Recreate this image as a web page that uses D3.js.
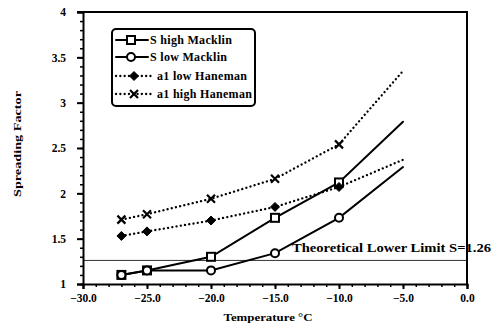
<!DOCTYPE html>
<html>
<head>
<meta charset="utf-8">
<script src="https://cdn.jsdelivr.net/npm/d3@7/dist/d3.min.js"></script>
<style>
  html, body { margin: 0; padding: 0; background: #fff; }
  svg { display: block; }
  text { font-family: "Liberation Serif", "Times New Roman", serif; font-weight: bold; fill: #000; }
</style>
</head>
<body>
<svg id="chart" width="494" height="331"></svg>
<script>
// Temperatures (°C) at which spreading factors were measured
const temps = [-27, -25, -20, -15, -10, -5];

// Spreading factor series
const sHighMacklin = [1.10, 1.15, 1.30, 1.73, 2.12, 2.79];
const sLowMacklin = [1.10, 1.15, 1.15, 1.34, 1.73, 2.29];
const a1LowHaneman = [1.53, 1.58, 1.70, 1.85, 2.07, 2.37];
const a1HighHaneman = [1.71, 1.77, 1.94, 2.16, 2.54, 3.35];

const seriesNames = ["S high Macklin", "S low Macklin", "a1 low Haneman", "a1 high Haneman"];

// Axis ticks
const xTicks = [-30, -25, -20, -15, -10, -5, 0];
const yTicks = [1, 1.5, 2, 2.5, 3, 3.5, 4];

const lowerLimit = 1.26;
const lowerLimitLabel = "Theoretical Lower Limit S=1.26";

const svg = d3.select("#chart");
const x = d3.scaleLinear().domain([-30, 0]).range([83, 467]);
const y = d3.scaleLinear().domain([1, 4]).range([284, 12]);

// series definitions: values, line style, marker type; the last point carries no marker
const series = [
  { name: seriesNames[0], values: sHighMacklin, dotted: false, marker: "square" },
  { name: seriesNames[1], values: sLowMacklin, dotted: false, marker: "circle" },
  { name: seriesNames[2], values: a1LowHaneman, dotted: true, marker: "diamond" },
  { name: seriesNames[3], values: a1HighHaneman, dotted: true, marker: "cross" }
];

function drawMarker(g, type, cx, cy) {
  if (type === "square") {
    g.append("rect").attr("x", cx - 4).attr("y", cy - 4).attr("width", 8).attr("height", 8)
      .attr("fill", "#fff").attr("stroke", "#000").attr("stroke-width", 2);
  } else if (type === "circle") {
    g.append("circle").attr("cx", cx).attr("cy", cy).attr("r", 4)
      .attr("fill", "#fff").attr("stroke", "#000").attr("stroke-width", 2);
  } else if (type === "diamond") {
    g.append("path").attr("d", `M${cx},${cy - 4.5}L${cx + 4.5},${cy}L${cx},${cy + 4.5}L${cx - 4.5},${cy}Z`)
      .attr("fill", "#000").attr("stroke", "#000").attr("stroke-width", 1);
  } else if (type === "cross") {
    g.append("path").attr("d", `M${cx - 4},${cy - 4}L${cx + 4},${cy + 4}M${cx - 4},${cy + 4}L${cx + 4},${cy - 4}`)
      .attr("stroke", "#000").attr("stroke-width", 2.2).attr("fill", "none");
  }
}

// theoretical lower limit line
svg.append("line")
  .attr("x1", x(-30)).attr("x2", x(0))
  .attr("y1", y(lowerLimit)).attr("y2", y(lowerLimit))
  .attr("stroke", "#333").attr("stroke-width", 1);

// minor ticks
svg.append("g").attr("transform", `translate(${x(-30)},0)`)
  .call(d3.axisLeft(y).tickValues(d3.range(10, 41).map(v => v / 10)).tickSize(3).tickFormat(""))
  .call(g => g.select(".domain").remove())
  .call(g => g.selectAll("line").attr("stroke-width", 1.5));
svg.append("g").attr("transform", `translate(0,${y(1)})`)
  .call(d3.axisBottom(x).tickValues(d3.range(-30, 1)).tickSize(3).tickFormat(""))
  .call(g => g.select(".domain").remove())
  .call(g => g.selectAll("line").attr("stroke-width", 1.5));

// major axes
const yAxis = svg.append("g").attr("transform", `translate(${x(-30)},0)`)
  .call(d3.axisLeft(y).tickValues(yTicks).tickSize(6).tickPadding(11).tickFormat(d => String(d)));
const xAxis = svg.append("g").attr("transform", `translate(0,${y(1)})`)
  .call(d3.axisBottom(x).tickValues(xTicks).tickSize(5).tickPadding(5).tickFormat(d3.format(".1f")));
[yAxis, xAxis].forEach(g => {
  g.select(".domain").attr("stroke-width", 2);
  g.selectAll("line").attr("stroke-width", 2);
  g.selectAll("text").attr("font-size", 11.5)
    .attr("font-family", "'Liberation Serif', serif").attr("font-weight", "bold");
});

// top and right frame
svg.append("path")
  .attr("d", `M${x(-30) - 6},${y(4)}L${x(0)},${y(4)}L${x(0)},${y(1)}`)
  .attr("fill", "none").attr("stroke", "#000").attr("stroke-width", 2);

// series lines and markers
const line = d3.line().x((d, i) => x(temps[i])).y(d => y(d));
series.forEach(s => {
  svg.append("path").datum(s.values)
    .attr("d", line)
    .attr("fill", "none").attr("stroke", "#000")
    .attr("stroke-linecap", "round")
    .attr("stroke-dasharray", s.dotted ? "0.1,4.2" : null)
    .attr("stroke-width", s.dotted ? 2.3 : 2);
  const mg = svg.append("g");
  s.values.slice(0, -1).forEach((v, i) => drawMarker(mg, s.marker, x(temps[i]), y(v)));
});

// lower limit label
svg.append("text")
  .attr("x", 292).attr("y", 252)
  .attr("font-size", 11.5)
  .attr("textLength", 199).attr("lengthAdjust", "spacingAndGlyphs")
  .text(lowerLimitLabel);

// legend
const legend = svg.append("g");
legend.append("rect")
  .attr("x", 112).attr("y", 29).attr("width", 143).attr("height", 77).attr("rx", 4)
  .attr("fill", "#fff").attr("stroke", "#000").attr("stroke-width", 2);
const legendY = [40, 57, 76, 94];
series.forEach((s, i) => {
  const ly = legendY[i];
  const x2 = s.dotted ? 154 : 148;
  legend.append("line")
    .attr("x1", 116).attr("x2", x2).attr("y1", ly).attr("y2", ly)
    .attr("stroke", "#000").attr("stroke-linecap", "round")
    .attr("stroke-width", s.dotted ? 2.3 : 2)
    .attr("stroke-dasharray", s.dotted ? "0.1,4.2" : null);
  drawMarker(legend, s.marker, s.dotted ? 134 : 131, ly);
  legend.append("text")
    .attr("x", s.dotted ? 157 : 150).attr("y", ly + 4)
    .attr("font-size", 12)
    .attr("letter-spacing", 0.3)
    .text(s.name);
});

// axis titles
svg.append("text")
  .attr("transform", "translate(21,144) rotate(-90)")
  .attr("text-anchor", "middle")
  .attr("font-size", 11)
  .attr("textLength", 106).attr("lengthAdjust", "spacingAndGlyphs")
  .text("Spreading Factor");
svg.append("text")
  .attr("x", 268).attr("y", 321)
  .attr("text-anchor", "middle")
  .attr("font-size", 11)
  .attr("textLength", 89).attr("lengthAdjust", "spacingAndGlyphs")
  .text("Temperature °C");
</script>
</body>
</html>
